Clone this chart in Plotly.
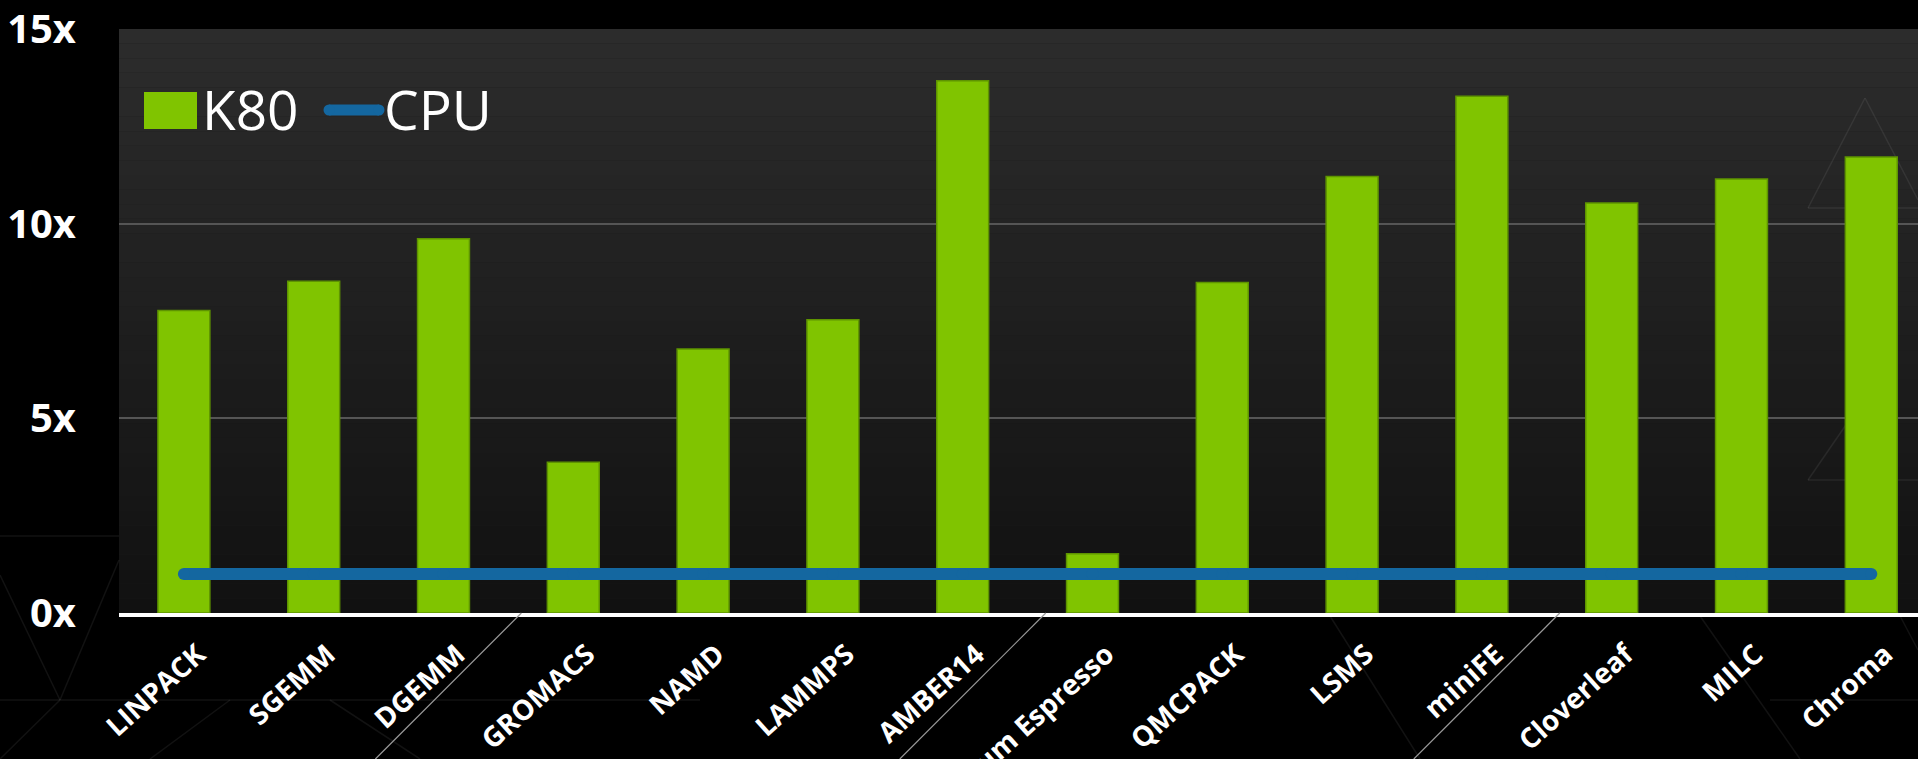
import plotly.graph_objects as go

# Application speed-ups on Tesla K80 relative to a CPU baseline
categories = ["LINPACK", "SGEMM", "DGEMM", "GROMACS", "NAMD", "LAMMPS", "AMBER14",
              "Quantum Espresso", "QMCPACK", "LSMS", "miniFE", "Cloverleaf", "MILC", "Chroma"]
k80_speedup = [7.77, 8.52, 9.61, 3.87, 6.78, 7.53, 13.67, 1.52, 8.49, 11.21, 13.27, 10.53, 11.15, 11.71]
cpu_baseline = [1.0, 1.0, 1.0, 1.0, 1.0, 1.0, 1.0, 1.0, 1.0, 1.0, 1.0, 1.0, 1.0, 1.0]
y_tick_values = [0, 5, 10, 15]
y_tick_labels = ["0x", "5x", "10x", "15x"]

W, H = 1918, 759
ML, MR, MT, MB = 119, 0, 29, 146
PW, PH = W - ML - MR, H - MT - MB
SLOT = 129.8  # pixel width of one category slot

GREEN = "#80c400"
GREEN_EDGE = "#5e9400"
BLUE = "#1467a0"
FONT = "Open Sans"


def px(x):
    return (x - ML) / PW


def py(y):
    return 1 - (y - MT) / PH


fig = go.Figure()

fig.add_trace(go.Bar(
    x=categories, y=k80_speedup, name="K80",
    marker=dict(color=GREEN, line=dict(color=GREEN_EDGE, width=1.5)),
    width=0.4, showlegend=False,
))
fig.add_trace(go.Scatter(
    x=categories, y=cpu_baseline, name="CPU", mode="lines+markers",
    line=dict(color=BLUE, width=12),
    marker=dict(color=BLUE, size=12, line=dict(width=0)),
    showlegend=False,
))

shapes = []

# vertical gradient of the plotting area
n_bands = 40
top_c, bot_c = 44, 17
for i in range(n_bands):
    t = i / (n_bands - 1)
    c = round(top_c + (bot_c - top_c) * t)
    shapes.append(dict(type="rect", xref="paper", yref="paper",
                       x0=0, x1=1, y0=1 - (i + 1) / n_bands, y1=1 - i / n_bands,
                       fillcolor=f"rgb({c},{c},{c})", line=dict(width=0), layer="below"))

# faint triangle pattern in the backdrop
faint = dict(color="rgba(255,255,255,0.07)", width=1.5)
tri_lines = [
    (1808, 208, 1865, 98), (1865, 98, 1918, 200), (1808, 208, 1918, 208),
    (1808, 480, 1918, 480), (1808, 480, 1870, 390), (1918, 650, 1860, 540),
    (0, 536, 119, 536), (0, 575, 60, 700), (60, 700, 0, 759), (60, 700, 119, 560),
    (0, 700, 700, 700), (150, 759, 230, 700), (330, 700, 420, 759),
    (1330, 616, 1420, 759), (1700, 616, 1800, 759), (1770, 700, 1918, 700),
]
for x0, y0, x1, y1 in tri_lines:
    shapes.append(dict(type="line", xref="paper", yref="paper",
                       x0=px(x0), y0=py(y0), x1=px(x1), y1=py(y1),
                       line=faint, layer="below"))

# diagonal group separators below the axis
for xd in (2.6, 6.64, 10.6):
    drop = H - (MT + PH)
    shapes.append(dict(type="line", xref="x", yref="paper",
                       x0=xd, y0=0, x1=xd - drop / SLOT, y1=-drop / PH,
                       line=dict(color="#9a9a9a", width=1.2), layer="above"))

# legend swatches
shapes.append(dict(type="rect", xref="paper", yref="paper",
                   x0=px(144), x1=px(197), y0=py(129), y1=py(92),
                   fillcolor=GREEN, line=dict(width=0), layer="above"))
shapes.append(dict(type="line", xref="paper", yref="paper",
                   x0=px(329), x1=px(379), y0=py(110), y1=py(110),
                   line=dict(color=BLUE, width=11), layer="above"))
shapes.append(dict(type="circle", xref="paper", yref="paper",
                   x0=px(323.5), x1=px(334.5), y0=py(115.5), y1=py(104.5),
                   fillcolor=BLUE, line=dict(width=0), layer="above"))
shapes.append(dict(type="circle", xref="paper", yref="paper",
                   x0=px(373.5), x1=px(384.5), y0=py(115.5), y1=py(104.5),
                   fillcolor=BLUE, line=dict(width=0), layer="above"))

annotations = [
    dict(text="K80", x=px(200), y=py(108), xref="paper", yref="paper",
         xanchor="left", yanchor="middle", showarrow=False,
         font=dict(family=FONT, size=55, color="white")),
    dict(text="CPU", x=px(382), y=py(108), xref="paper", yref="paper",
         xanchor="left", yanchor="middle", showarrow=False,
         font=dict(family=FONT, size=55, color="white")),
]

fig.update_layout(
    width=W, height=H,
    margin=dict(l=ML, r=MR, t=MT, b=MB, pad=0),
    paper_bgcolor="#000000", plot_bgcolor="#1c1c1c",
    template="none",
    showlegend=False,
    shapes=shapes, annotations=annotations,
    bargap=0.6,
    xaxis=dict(
        type="category", range=[-0.5, -0.5 + PW / SLOT],
        showgrid=False, zeroline=False, automargin=False,
        showline=True, linecolor="white", linewidth=4,
        ticks="outside", ticklen=10, tickcolor="rgba(0,0,0,0)",
        ticklabelshift=14,
        tickangle=-42,
        tickfont=dict(family=FONT, size=28, color="white", weight="bold"),
    ),
    yaxis=dict(
        range=[0, 15], tickvals=y_tick_values, ticktext=y_tick_labels,
        showgrid=True, gridcolor="#555555", gridwidth=2,
        zeroline=False, showline=False, automargin=False,
        ticks="outside", ticklen=34, tickcolor="rgba(0,0,0,0)",
        tickfont=dict(family=FONT, size=40, color="white", weight="bold"),
    ),
)

fig.write_html("out.html")
